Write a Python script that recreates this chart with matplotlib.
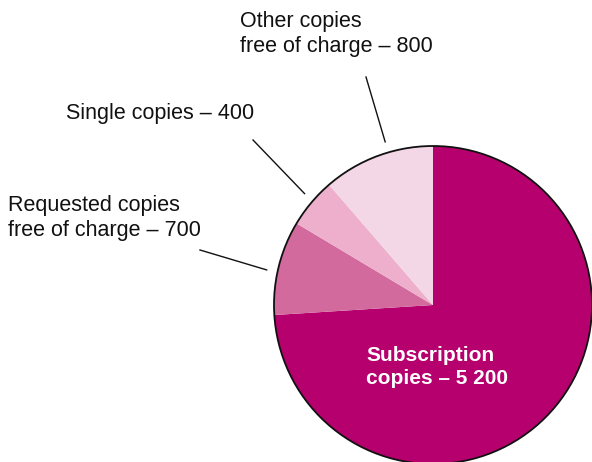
import numpy as np
import matplotlib
matplotlib.use("Agg")
import matplotlib.pyplot as plt
from matplotlib.patches import Circle

labels = ["Subscription\ncopies – 5 200", "Requested copies\nfree of charge – 700",
          "Single copies – 400", "Other copies\nfree of charge – 800"]
# slice sizes (labels show rounded figures)
values = [5250, 680, 360, 805]
colors = ["#B6006E", "#D36A9D", "#EDAFCB", "#F3D7E6"]

plt.rcParams["font.family"] = ["Liberation Sans", "DejaVu Sans"]

W, H = 592, 462
fig = plt.figure(figsize=(W / 100, H / 100), dpi=100)
ax = fig.add_axes([0, 0, 1, 1])

cx, cy, R = 433, H - 305, 159
wedges, _ = ax.pie(values, colors=colors, startangle=90, counterclock=False,
                   center=(cx, cy), radius=R, wedgeprops=dict(linewidth=0))
ax.add_patch(Circle((cx, cy), R, fill=False, edgecolor="#111111", linewidth=1.3))
ax.set_xlim(0, W)
ax.set_ylim(0, H)
ax.set_aspect("equal")
ax.axis("off")

# inside label for the big slice
ax.text(366, H - 367, labels[0], color="white", fontsize=15, fontweight="bold",
        ha="left", va="center", linespacing=1.25)

# outside labels with leader lines: (wedge idx, frac along wedge, line start, text pos)
outside = [
    (1, 0.55, (200, 250), (8, 218)),
    (2, 0.45, (253, 140), (66, 113)),
    (3, 0.4, (366, 77), (240, 34)),
]
for i, frac, (lx, ly), (tx, ty) in outside:
    w = wedges[i]
    th = np.deg2rad(w.theta1 + frac * (w.theta2 - w.theta1))
    px, py = cx + 170 * np.cos(th), cy + 170 * np.sin(th)
    ax.plot([lx, px], [H - ly, py], color="#111111", linewidth=1.0)
    ax.text(tx, H - ty, labels[i], fontsize=15.5, ha="left", va="center",
            linespacing=1.25, color="#111111")

fig.savefig("out.png", dpi=100)
